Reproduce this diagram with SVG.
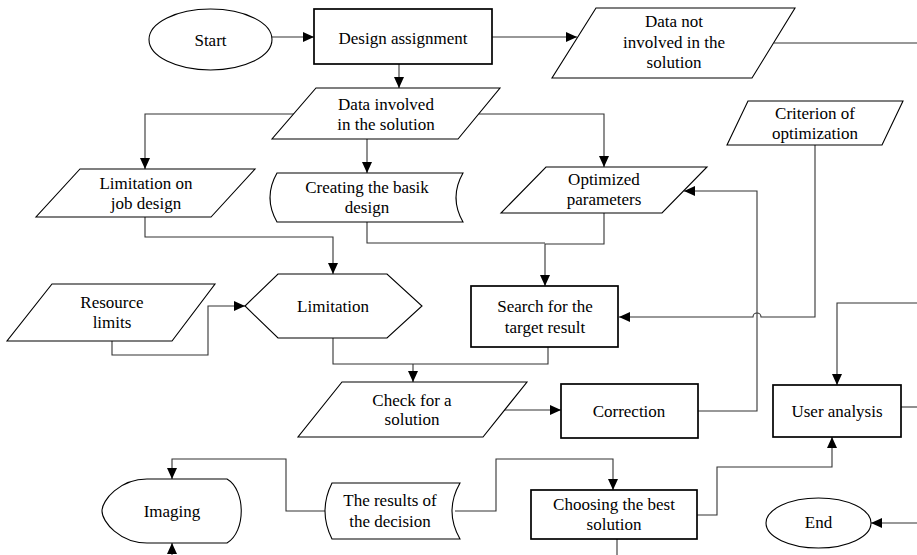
<svg xmlns="http://www.w3.org/2000/svg" width="917" height="555" viewBox="0 0 917 555" font-family="'Liberation Serif', 'DejaVu Serif', serif" font-size="17">
<defs>
<marker id="arr" markerUnits="userSpaceOnUse" markerWidth="11" markerHeight="10" refX="11" refY="5" orient="auto">
<path d="M0,0 L11,5 L0,10 Z" fill="#000"/>
</marker>
<style>
.s{fill:#fff;stroke:#000;stroke-width:1.1}
.b{fill:#fff;stroke:#000;stroke-width:1.7}
.c{fill:none;stroke:#333;stroke-width:1.1}
.a{fill:none;stroke:#333;stroke-width:1.1;marker-end:url(#arr)}
text{font-family:'Liberation Serif','DejaVu Serif',serif;font-size:17px;fill:#000;text-anchor:middle}
</style>
</defs>
<rect width="917" height="555" fill="#fff"/>
<g id="connectors">
<path class="a" d="M272,37 L314,37"/>
<path class="a" d="M492,37 L577,37"/>
<path class="c" d="M774,43 L917,43"/>
<path class="a" d="M399,64 L399,88"/>
<path class="a" d="M294,114 L145,114 L145,169"/>
<path class="a" d="M367,139 L367,173"/>
<path class="a" d="M479,114 L604,114 L604,167"/>
<path class="a" d="M145,217 L145,237 L333,237 L333,274"/>
<path class="c" d="M367,222 L367,243 L545,243"/>
<path class="a" d="M604,213 L604,244 L545,244 L545,286"/>
<path class="a" d="M112,341 L112,355 L208,355 L208,306 L245,306"/>
<path class="a" d="M815,145 L815,317 L761,317 A4,4 0 0 0 753,317 L619,317"/>
<path class="a" d="M698,411 L757,411 L757,191 L684,191"/>
<path class="c" d="M333,338 L333,364 L548,364 L548,347"/>
<path class="a" d="M413,364 L413,382"/>
<path class="a" d="M504,410 L561,410"/>
<path class="a" d="M917,303 L837,303 L837,385"/>
<path class="c" d="M901,407 L917,407"/>
<path class="a" d="M326,511 L286,511 L286,459 L172,459 L172,479"/>
<path class="a" d="M172,555 L172,543"/>
<path class="a" d="M455,511 L496,511 L496,459 L613,459 L613,490"/>
<path class="a" d="M697,515 L717,515 L717,467 L832,467 L832,437"/>
<path class="c" d="M617,539 L617,555"/>
<path class="a" d="M917,523 L871,523"/>
</g>
<g id="start">
<ellipse class="s" cx="210.5" cy="39.5" rx="61.5" ry="30.5"/>
<text x="210.5" y="46">Start</text>
</g>
<g id="design-assignment">
<rect class="b" x="314" y="9" width="178" height="55"/>
<text x="403" y="44">Design assignment</text>
</g>
<g id="data-not-involved">
<polygon class="s" points="596,8 795,8 752,78 552,78"/>
<text x="674" y="27">Data not</text>
<text x="674" y="48">involved in the</text>
<text x="674" y="68">solution</text>
</g>
<g id="data-involved">
<polygon class="s" points="316,88 500,88 458,139 272,139"/>
<text x="386" y="110">Data involved</text>
<text x="386" y="130">in the solution</text>
</g>
<g id="criterion">
<polygon class="s" points="748,101 903,101 882,145 727,145"/>
<text x="815" y="119">Criterion of</text>
<text x="815" y="139">optimization</text>
</g>
<g id="limitation-job">
<polygon class="s" points="80,169 255,169 211,217 36,217"/>
<text x="146" y="189">Limitation on</text>
<text x="146" y="209">job design</text>
</g>
<g id="creating">
<path class="s" d="M277,173 L463,173 Q449,197.5 463,222 L277,222 Q263,197.5 277,173 Z"/>
<text x="367" y="193">Creating the basik</text>
<text x="367" y="213">design</text>
</g>
<g id="optimized">
<polygon class="s" points="546,167 707,167 662,213 501,213"/>
<text x="604" y="185">Optimized</text>
<text x="604" y="205">parameters</text>
</g>
<g id="resource">
<polygon class="s" points="52,284 215,284 172,341 7,341"/>
<text x="112" y="308">Resource</text>
<text x="112" y="328">limits</text>
</g>
<g id="limitation">
<polygon class="s" points="245,306 278,274 387,274 422,306 387,338 278,338"/>
<text x="333" y="312">Limitation</text>
</g>
<g id="search">
<rect class="b" x="471" y="286" width="147" height="61"/>
<text x="545" y="312">Search for the</text>
<text x="545" y="333">target result</text>
</g>
<g id="check">
<polygon class="s" points="342,382 527,382 483,437 298,437"/>
<text x="412" y="406">Check for a</text>
<text x="412" y="425">solution</text>
</g>
<g id="correction">
<rect class="b" x="561" y="384" width="137" height="54"/>
<text x="629" y="417">Correction</text>
</g>
<g id="user-analysis">
<rect class="b" x="773" y="385" width="128" height="52"/>
<text x="837" y="417">User analysis</text>
</g>
<g id="imaging">
<path class="s" d="M147,479 L227,479 C246,490 246,532 227,543 L147,543 C120,543 102,522 102,511 C102,500 120,479 147,479 Z"/>
<text x="172" y="517">Imaging</text>
</g>
<g id="results">
<path class="s" d="M332,483 L460,483 Q444,511 460,539 L332,539 Q318,511 332,483 Z"/>
<text x="390" y="506">The results of</text>
<text x="390" y="527">the decision</text>
</g>
<g id="choosing">
<rect class="b" x="531" y="490" width="166" height="49"/>
<text x="614" y="510">Choosing the best</text>
<text x="614" y="530">solution</text>
</g>
<g id="end">
<ellipse class="s" cx="818.5" cy="523" rx="52.5" ry="25"/>
<text x="818.5" y="528">End</text>
</g>
</svg>
